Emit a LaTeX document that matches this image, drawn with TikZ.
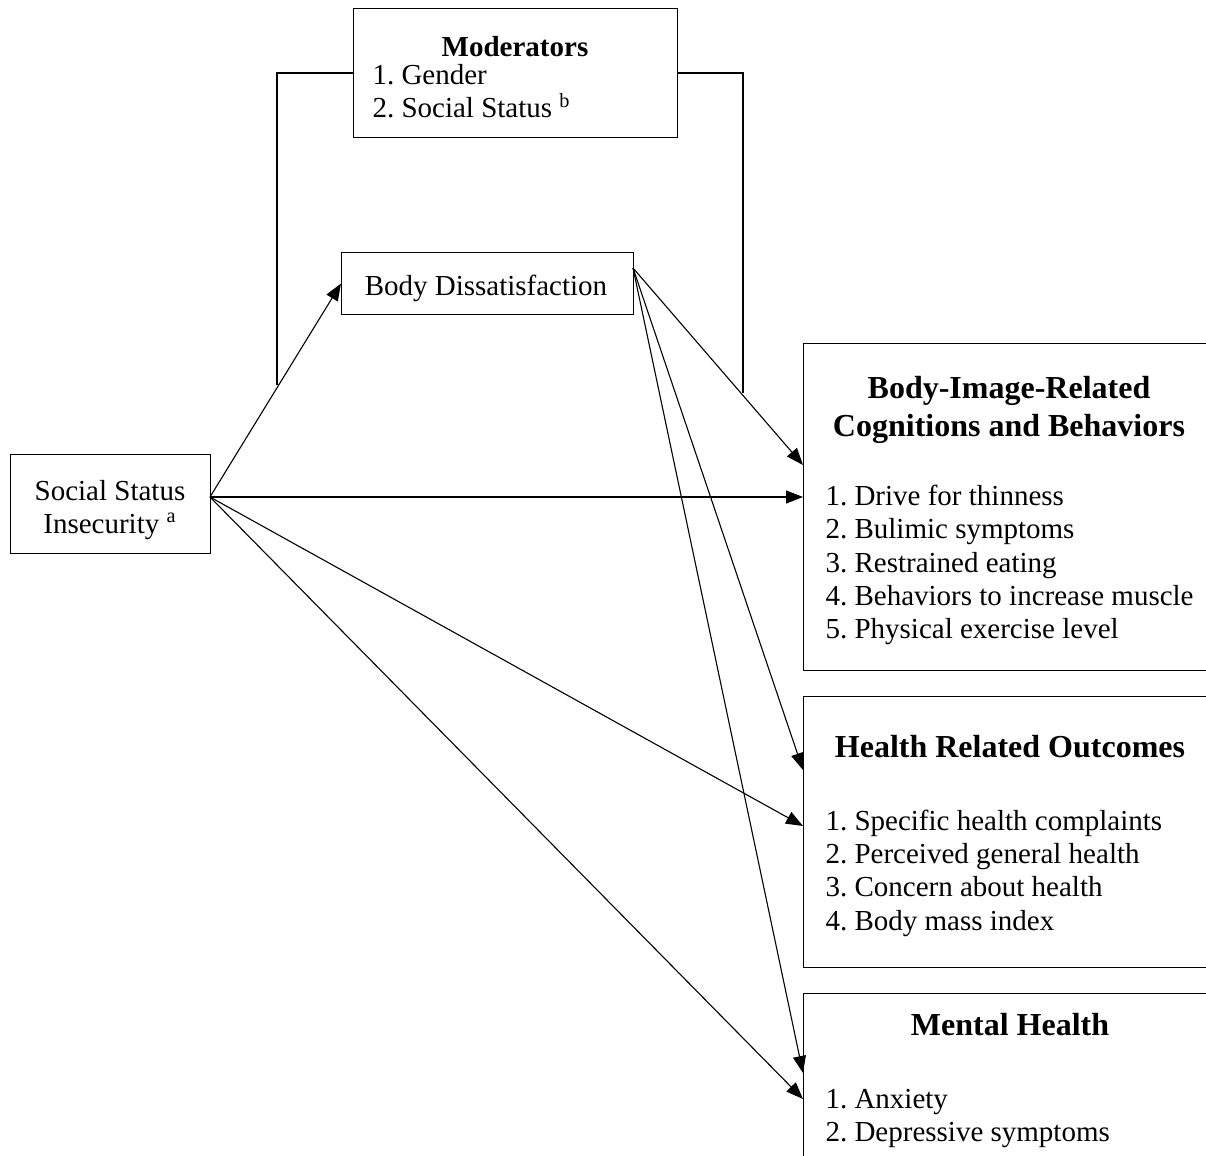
\documentclass[tikz,border=0pt]{standalone}
\usepackage{fontspec}
\setmainfont{Liberation Serif}
\usetikzlibrary{arrows.meta}
\frenchspacing
\begin{document}
\begin{tikzpicture}[x=0.5pt,y=-0.5pt, line width=0.55pt,
  box/.style={draw, inner sep=0pt, anchor=north west},
  txt/.style={inner sep=0pt, font=\fontsize{14.5}{16.7}\selectfont},
  head/.style={inner sep=0pt, font=\fontsize{16}{19}\selectfont\bfseries, anchor=base},
  modhead/.style={inner sep=0pt, font=\fontsize{14.5}{16.7}\selectfont\bfseries, anchor=base},
  item/.style={txt, anchor=base west},
  arr/.style={-{Triangle[length=8.5pt,width=6.5pt]}}]
\useasboundingbox (0,0) rectangle (1206,1156);
\clip (0,0) rectangle (1206,1156);
\fill[white] (0,0) rectangle (1206,1156);

% boxes
\node[box, minimum width=162pt, minimum height=64.5pt] (mod) at (353,8) {};
\node[box, minimum width=146pt, minimum height=31pt] (bd) at (341,252) {};
\node[box, minimum width=100pt, minimum height=49.5pt] (ssi) at (10,454) {};
\node[box, minimum width=208.5pt, minimum height=163.5pt] (b1) at (803,343) {};
\node[box, minimum width=208.5pt, minimum height=135.5pt] (b2) at (803,696) {};
\node[box, minimum width=208.5pt, minimum height=103.5pt] (b3) at (803,993) {};

% moderators text
\node[modhead] (modt) at (515,57) {Moderators};
\node[item] (mod1) at (372,85) {1. Gender};
\node[item] (mod2) at (372,118) {2. Social Status \textsuperscript{b}};

% body dissatisfaction
\node[txt, anchor=base] (bdt) at (486,295) {Body Dissatisfaction};

% social status insecurity
\node[txt, anchor=base] (ssi1) at (110,500) {Social Status};
\node[txt, anchor=base] (ssi2) at (110,533) {Insecurity \textsuperscript{a}};

% box 1
\node[head] (b1h1) at (1009,398) {Body-Image-Related};
\node[head] (b1h2) at (1009,436) {Cognitions and Behaviors};
\node[item] (b1i1) at (825,505) {1. Drive for thinness};
\node[item] (b1i2) at (825,538.5) {2. Bulimic symptoms};
\node[item] (b1i3) at (825,572) {3. Restrained eating};
\node[item] (b1i4) at (825,605) {4. Behaviors to increase muscle};
\node[item] (b1i5) at (825,638.5) {5. Physical exercise level};

% box 2
\node[head] (b2h) at (1010,757) {Health Related Outcomes};
\node[item] (b2i1) at (825,830) {1. Specific health complaints};
\node[item] (b2i2) at (825,863.3) {2. Perceived general health};
\node[item] (b2i3) at (825,896.7) {3. Concern about health};
\node[item] (b2i4) at (825,930) {4. Body mass index};

% box 3
\node[head] (b3h) at (1010,1035) {Mental Health};
\node[item] (b3i1) at (825,1108) {1. Anxiety};
\node[item] (b3i2) at (825,1141) {2. Depressive symptoms};

% moderator bracket
\coordinate (ml) at (277,385);
\coordinate (mr) at (743,393);
\draw (mod.west) -| (ml);
\draw (mod.east) -| (mr);

% connector ports
\coordinate (ssiout) at (210,497);
\coordinate (bdout) at (633,268);
\coordinate (b1a) at (803,465);
\coordinate (b1b) at (803,497);
\coordinate (b2a) at (803,770);
\coordinate (b2b) at (803,826);
\coordinate (b3a) at (803,1073);
\coordinate (b3b) at (803,1099);

\draw[arr] (ssiout) -- (bd.west);
\draw[arr] (ssiout) -- (b1b);
\draw[arr] (ssiout) -- (b2b);
\draw[arr] (ssiout) -- (b3b);
\draw[arr] (bdout) -- (b1a);
\draw[arr] (bdout) -- (b2a);
\draw[arr] (bdout) -- (b3a);
\end{tikzpicture}
\end{document}
